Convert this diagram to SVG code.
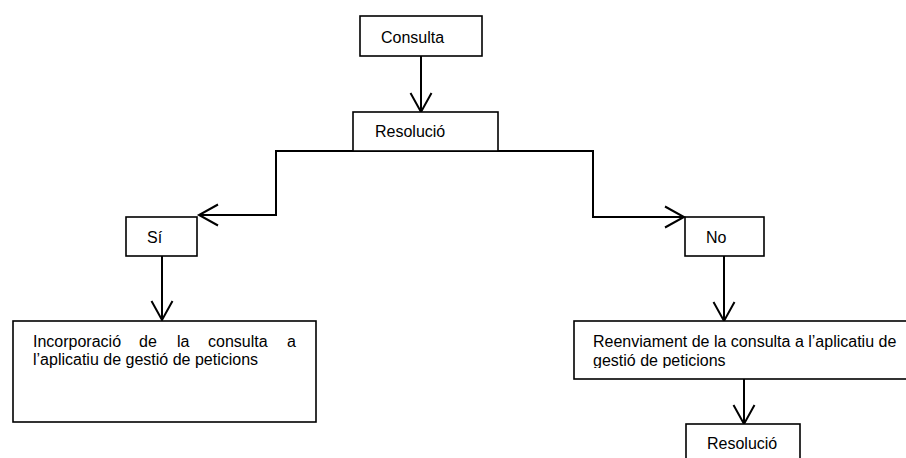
<svg xmlns="http://www.w3.org/2000/svg" width="906" height="458" viewBox="0 0 906 458">
<style>
  .box { fill: #ffffff; stroke: #000000; stroke-width: 1.6; }
  .lbl { font-family: "Liberation Sans", Arial, sans-serif; font-size: 16px; fill: #000000; }
  .conn { fill: none; stroke: #000000; stroke-width: 2; }
</style>
<defs>
  <marker id="chev" markerUnits="userSpaceOnUse" viewBox="-22 -13 26 26" refX="0" refY="0" markerWidth="26" markerHeight="26" orient="auto" overflow="visible">
    <path d="M-19,-10.5 L0,0 L-19,10.5" fill="none" stroke="#000000" stroke-width="2"/>
  </marker>
  <clipPath id="clipReenv">
    <rect x="574" y="321" width="340" height="47"/>
  </clipPath>
</defs>
<rect x="0" y="0" width="906" height="458" fill="#ffffff"/>

<g id="connectors">
  <path class="conn" d="M421,56 V112" marker-end="url(#chev)"/>
  <path class="conn" d="M425,151 H276 V215 H199" marker-end="url(#chev)"/>
  <path class="conn" d="M425,151 H593 V217 H684" marker-end="url(#chev)"/>
  <path class="conn" d="M162,256 V320" marker-end="url(#chev)"/>
  <path class="conn" d="M724,256 V321" marker-end="url(#chev)"/>
  <path class="conn" d="M744,379 V424" marker-end="url(#chev)"/>
</g>

<g id="consulta">
  <rect class="box" x="360" y="16" width="122" height="40"/>
  <text class="lbl" x="381" y="43">Consulta</text>
</g>

<g id="resolucio1">
  <rect class="box" x="353" y="112" width="145" height="39"/>
  <text class="lbl" x="375" y="137">Resolució</text>
</g>

<g id="si">
  <rect class="box" x="126" y="217" width="71" height="39"/>
  <text class="lbl" x="147" y="243">Sí</text>
</g>

<g id="no">
  <rect class="box" x="685" y="217" width="79" height="39"/>
  <text class="lbl" x="706" y="243">No</text>
</g>

<g id="incorporacio">
  <rect class="box" x="13" y="321" width="303" height="101"/>
  <text class="lbl" y="347"><tspan x="33">Incorporació</tspan><tspan x="139">de</tspan><tspan x="177">la</tspan><tspan x="208">consulta</tspan><tspan x="287">a</tspan></text>
  <text class="lbl" x="33" y="365">l’aplicatiu de gestió de peticions</text>
</g>

<g id="reenviament">
  <rect class="box" x="574" y="321" width="340" height="58"/>
  <g clip-path="url(#clipReenv)">
    <text class="lbl" x="593" y="347">Reenviament de la consulta a l’aplicatiu de</text>
    <text class="lbl" x="593" y="366">gestió de peticions</text>
  </g>
</g>

<g id="resolucio2">
  <rect class="box" x="686" y="424" width="114" height="44"/>
  <text class="lbl" x="707" y="449">Resolució</text>
</g>
</svg>
